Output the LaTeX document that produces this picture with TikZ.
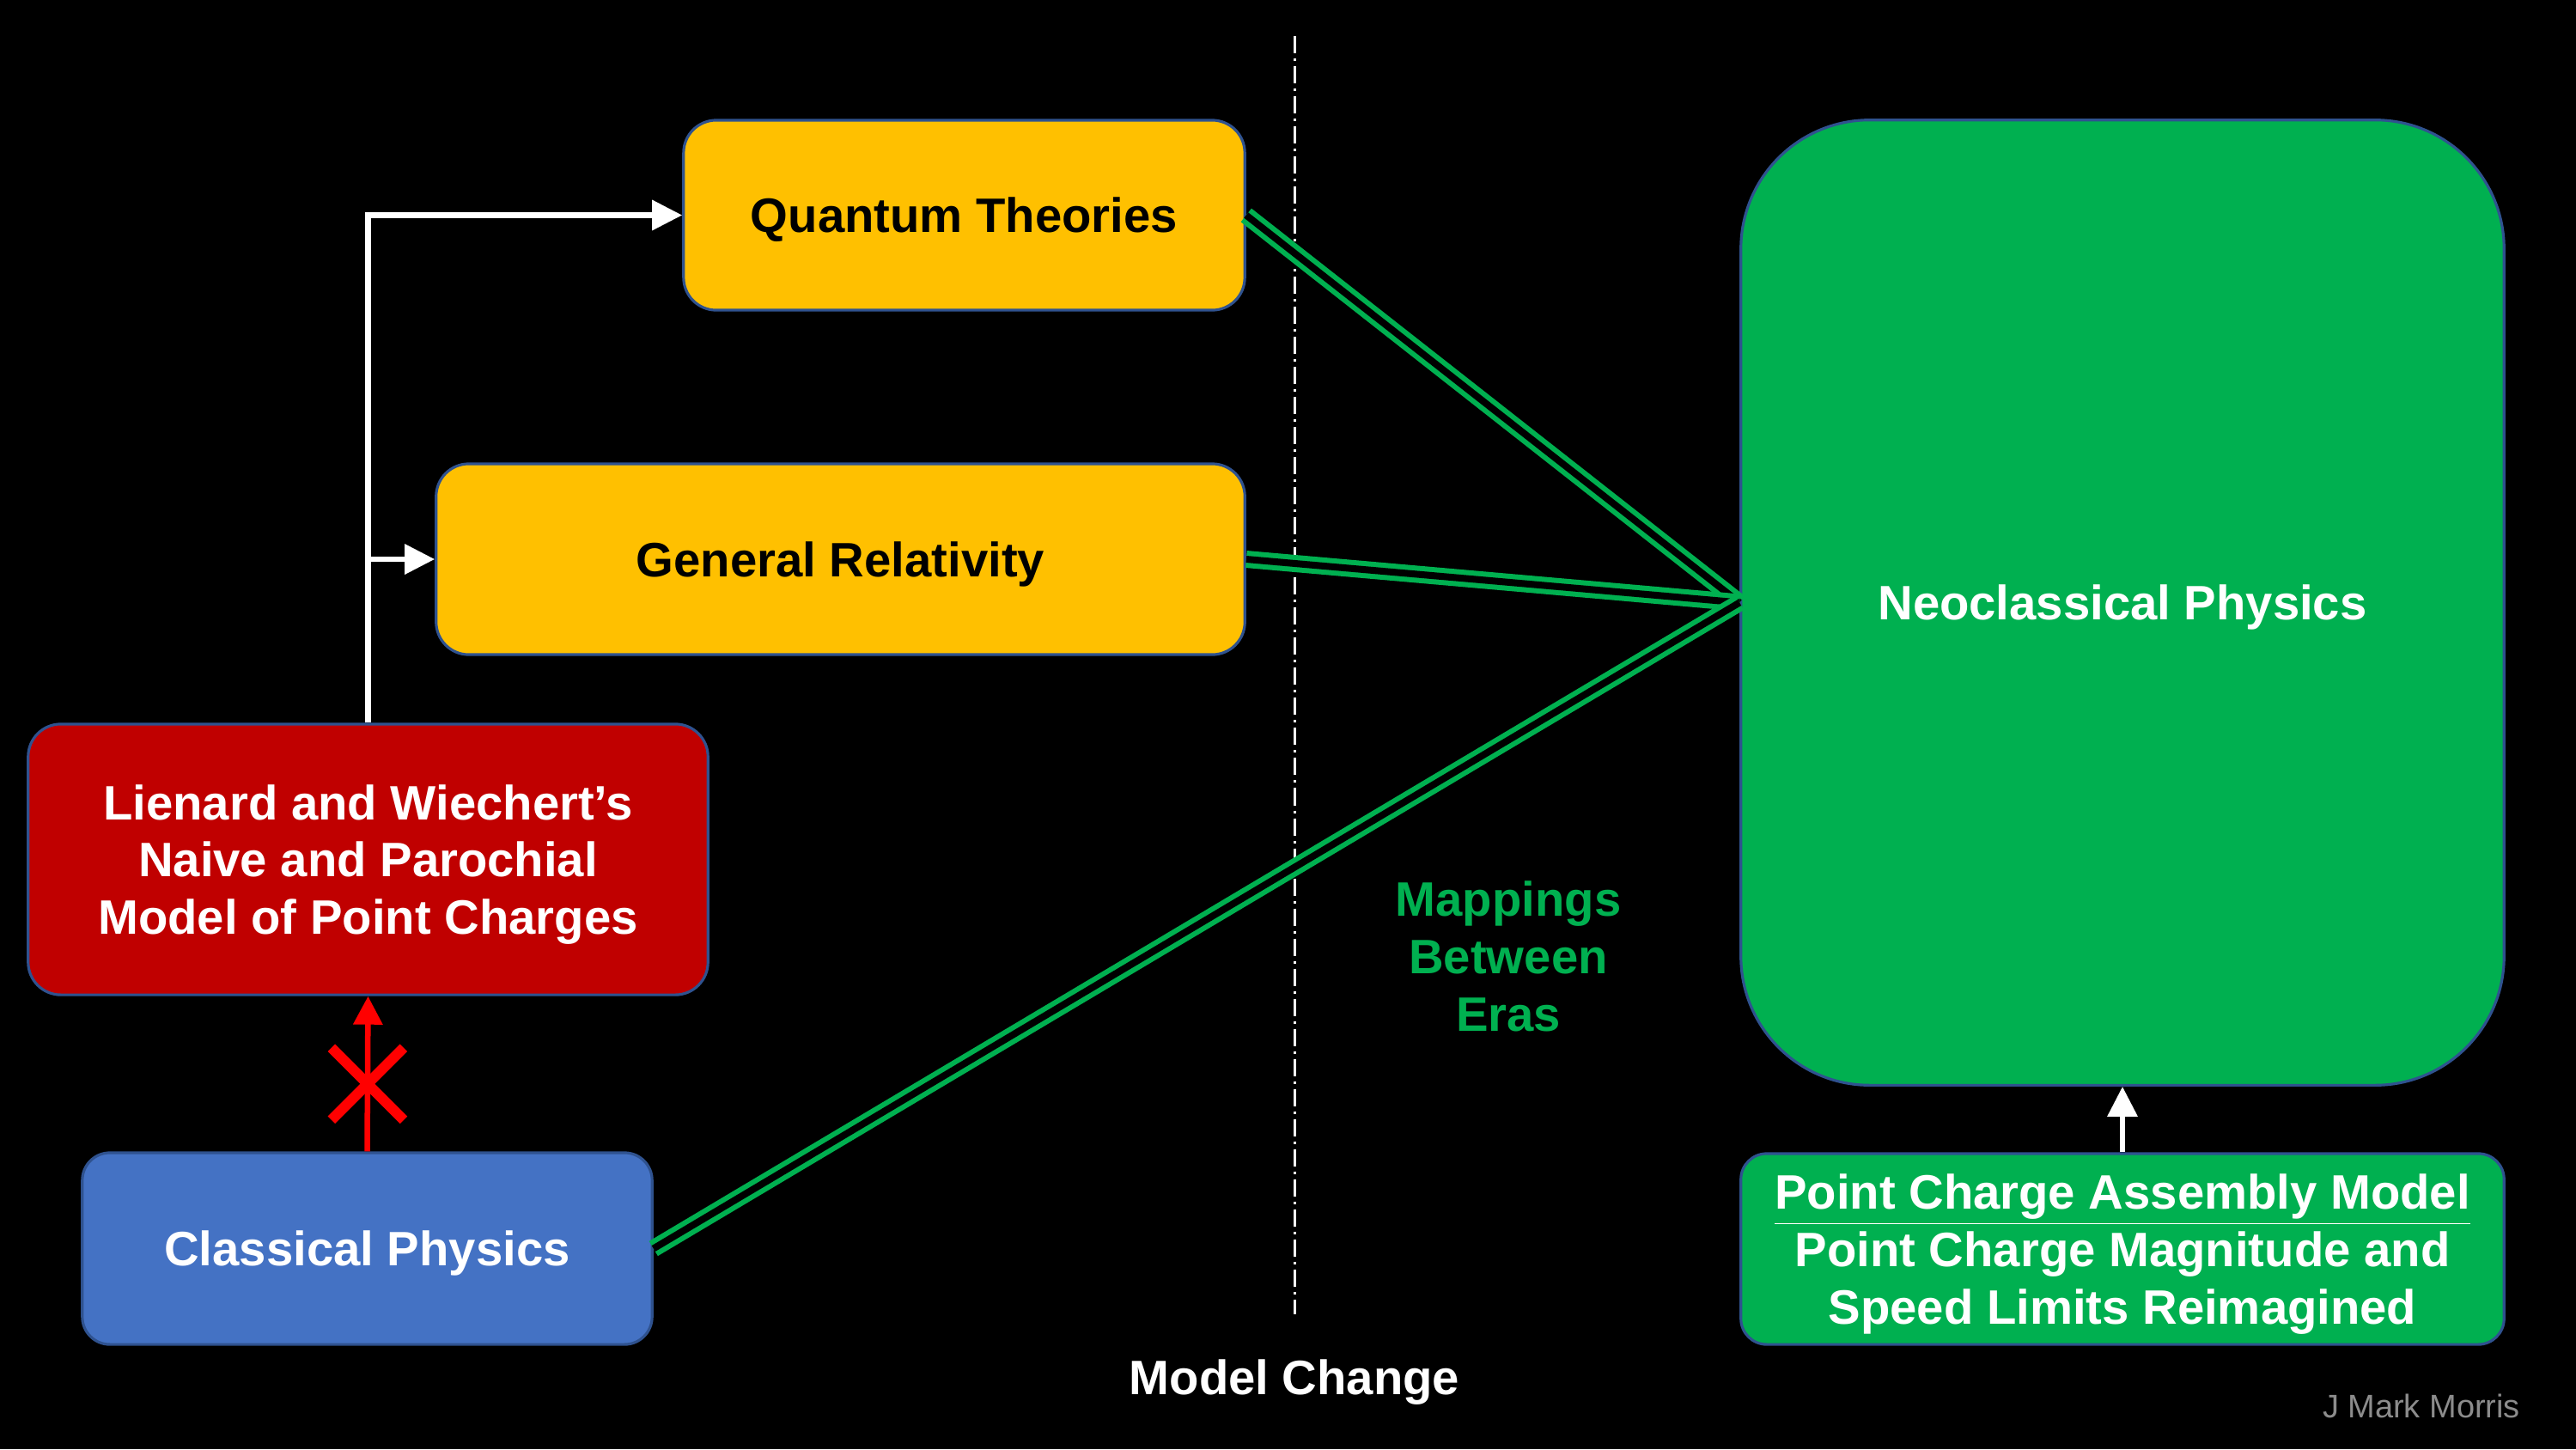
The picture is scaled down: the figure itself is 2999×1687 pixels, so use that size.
\documentclass[tikz,border=0pt]{standalone}
\usepackage{fontspec}
\setmainfont{Liberation Sans}
\usetikzlibrary{arrows.meta,calc,shapes.misc}
\definecolor{gold}{HTML}{FFC000}
\definecolor{deepred}{HTML}{C00000}
\definecolor{steel}{HTML}{4472C4}
\definecolor{leaf}{HTML}{00B050}
\definecolor{rim}{HTML}{2F528F}
\definecolor{signgray}{HTML}{8C8C8C}
\begin{document}
\begin{tikzpicture}[x=0.01cm,y=-0.01cm,
  box/.style={draw=rim,line width=0.9pt,rounded corners=0.38cm,inner sep=0pt,align=center,text depth=0pt,font=\fontsize{16}{19}\selectfont\bfseries},
  warrow/.style={draw=white,line width=0.065cm,-{Triangle[length=0.35cm,width=0.34cm]}},
  rarrow/.style={draw=red,line width=0.065cm,-{Triangle[length=0.33cm,width=0.33cm]}},
  mapline/.style={draw=leaf,line width=0.06cm,double=black,double distance=0.08cm},
  plaintext/.style={align=center,text depth=0pt,font=\fontsize{16}{19}\selectfont\bfseries}]
  \useasboundingbox (0,0) rectangle (2999,1687);
  \fill[black] (0,0) rectangle (2999,1687);
  \node[box,fill=gold,minimum width=6.53cm,minimum height=2.21cm] (quantum) at (1122.5,250.5) {Quantum Theories};
  \node[box,fill=gold,minimum width=9.41cm,minimum height=2.22cm] (gr) at (978.5,651) {General Relativity};
  \node[box,fill=deepred,text=white,minimum width=7.91cm,minimum height=3.15cm] (lw) at (428.5,1000.5)
    {Lienard and Wiechert’s\\Naive and Parochial\\Model of Point Charges};
  \node[box,fill=steel,text=white,rounded corners=0.32cm,minimum width=6.63cm,minimum height=2.23cm] (classical) at (427.5,1453.5) {Classical Physics};
  \node[box,fill=leaf,text=white,rounded corners=1.5cm,minimum width=8.88cm,minimum height=11.23cm] (neo) at (2471,701.5) {Neoclassical Physics};
  \node[box,fill=leaf,text=white,rounded corners=0.3cm,minimum width=8.88cm,minimum height=2.22cm] (pca) at (2471,1454)
    {\underline{Point Charge Assembly Model}\\Point Charge Magnitude and\\Speed Limits Reimagined};
  \coordinate (divtop) at (1507,42);
  \coordinate (divbot) at (1507,1530);
  \draw[white,line width=0.03cm,dash pattern=on 0.2cm off 0.06cm on 0.03cm off 0.06cm] (divtop) -- (divbot);
  \foreach \src in {quantum,gr,classical}
    \draw[mapline] (\src.east) -- (neo.west);
  \draw[warrow] (lw.north) |- (quantum.west);
  \draw[warrow] (lw.north |- gr.west) -- (gr.west);
  \draw[rarrow] (classical.north) -- (lw.south);
  \node[cross out,draw=red,line width=0.12cm,minimum size=0.72cm,inner sep=0pt] (nogo) at ($(classical.north)!0.435!(lw.south)$) {};
  \draw[warrow] (pca.north) -- (neo.south);
  \node[plaintext,text=leaf] (eras) at (1756,1113) {Mappings\\Between\\Eras};
  \node[plaintext,text=white] (change) at (1507,1603) {Model Change};
  \node[font=\fontsize{10.8}{13}\selectfont,text=signgray] (sign) at (2819,1637) {J Mark Morris};
\end{tikzpicture}
\end{document}
